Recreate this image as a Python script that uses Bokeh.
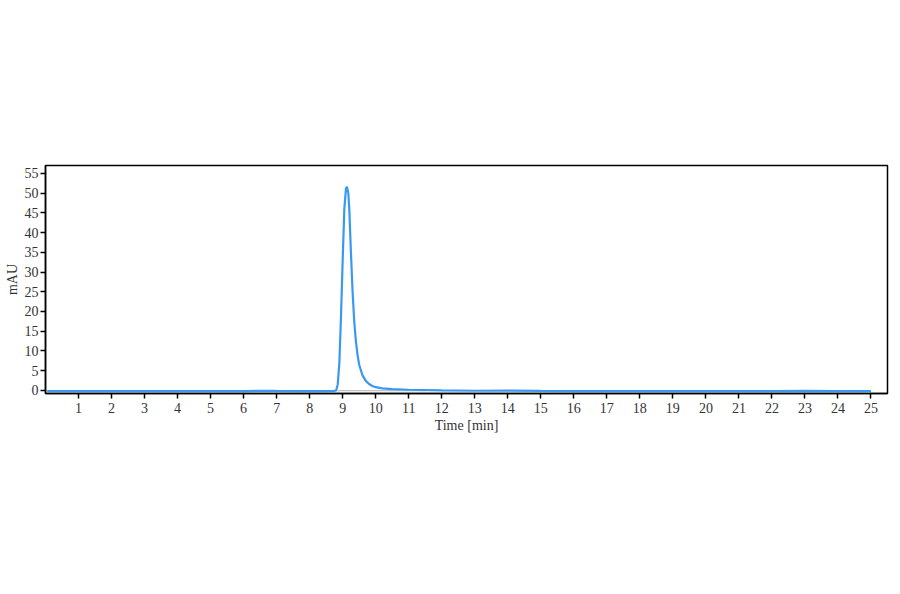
from bokeh.embed import file_html
from bokeh.resources import INLINE
from bokeh.models import ColumnDataSource, Range1d, FixedTicker
from bokeh.plotting import figure

# retention time (min) and absorbance (mAU)
time_min = [0.05, 1, 2, 3, 4, 5, 6, 6.7, 7.0, 7.5, 8, 8.5, 8.7, 8.8, 8.85, 8.9, 8.95,
            9.0, 9.05, 9.1, 9.13, 9.17, 9.2, 9.25, 9.3, 9.35, 9.4, 9.45, 9.5, 9.6,
            9.7, 9.8, 9.9, 10.0, 10.2, 10.5, 11, 12, 13, 14, 15, 16, 17, 18, 19,
            20, 21, 22, 23, 24, 25]
signal_mau = [-0.2, -0.2, -0.2, -0.2, -0.2, -0.2, -0.2, -0.1, -0.15, -0.2, -0.2, -0.2, -0.15, -0.1, 1.5, 7.0, 19.0,
              33.0, 46.0, 51.2, 51.6, 50.0, 46.0, 35.0, 25.0, 17.5, 12.5, 9.0, 6.5, 3.8,
              2.4, 1.6, 1.1, 0.8, 0.5, 0.3, 0.15, 0.0, -0.1, -0.05, -0.15, -0.2, -0.2, -0.2, -0.2,
              -0.2, -0.2, -0.2, -0.15, -0.2, -0.2]

# integration baseline under the peak
base_time = [8.85, 11.5]
base_mau = [-0.1, -0.1]

x_ticks = list(range(1, 26))
y_ticks = list(range(0, 60, 5))

FONT = "Liberation Serif"

p = figure(width=892, height=586, output_backend="svg", toolbar_location=None,
           x_range=Range1d(0, 25.5), y_range=Range1d(-0.8, 57),
           min_border_left=45, min_border_right=5, min_border_top=165, min_border_bottom=193)

p.line(base_time, base_mau, line_color="#b0b0b0", line_width=1)
src = ColumnDataSource(dict(t=time_min, v=signal_mau))
p.line("t", "v", source=src, line_color="#3a98f5", line_width=2.2)

p.xgrid.visible = False
p.ygrid.visible = False
p.outline_line_color = "black"
p.outline_line_width = 1.5
p.outline_line_alpha = 1

p.xaxis.ticker = FixedTicker(ticks=x_ticks)
p.yaxis.ticker = FixedTicker(ticks=y_ticks)
p.xaxis.axis_label = "Time [min]"
p.yaxis.axis_label = "mAU"

for ax in (p.xaxis[0], p.yaxis[0]):
    ax.major_label_text_font = FONT
    ax.major_label_text_font_size = "14px"
    ax.major_label_text_color = "#333333"
    ax.axis_label_text_font = FONT
    ax.axis_label_text_font_size = "14px"
    ax.axis_label_text_font_style = "normal"
    ax.axis_label_text_color = "#333333"
    ax.axis_line_color = "black"
    ax.axis_line_width = 1.5
    ax.major_tick_line_color = "black"
    ax.major_tick_line_width = 1.5
    ax.major_tick_out = 5
    ax.major_tick_in = 0
    ax.minor_tick_line_color = None
    ax.axis_label_standoff = 2
p.xaxis[0].major_label_standoff = 4
p.yaxis[0].major_label_standoff = 2

open("out.html", "w").write(file_html(p, INLINE))
